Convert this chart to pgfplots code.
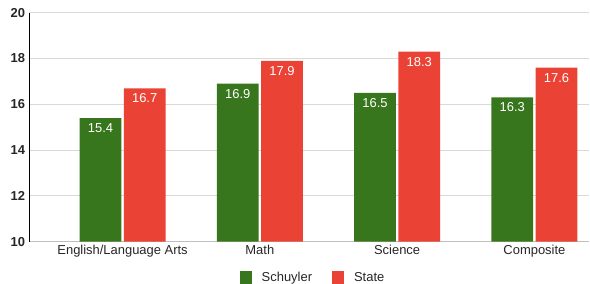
\documentclass[border=0pt]{standalone}
\usepackage{fontspec}
\setmainfont{Liberation Sans}
\usepackage{pgfplots}
\pgfplotsset{compat=1.18}
\definecolor{sgreen}{HTML}{38761D}
\definecolor{sred}{HTML}{EA4335}
\pgfplotsset{sqlegend/.style={legend image code/.code={\fill[##1] (0bp,-6bp) rectangle (12bp,6bp);}}}
\begin{document}
\begin{tikzpicture}
\begin{axis}[
  scale only axis, width=559bp, height=229bp,
  ybar, bar width=0.304,
  xmin=-0.678, xmax=3.394, ymin=10, ymax=20,
  ytick={10,12,...,20},
  xtick={0,1,2,3},
  xticklabels={English/Language Arts, Math, Science, Composite},
  ymajorgrids, grid style={draw=black!15, line width=0.8bp},
  axis lines*=left,
  x axis line style={draw=black!25, line width=0.8bp},
  y axis line style={draw=black, line width=1.3bp},
  major tick length=0pt,
  xticklabel style={font=\fontsize{13}{15}\selectfont, text=black!85},
  yticklabel style={font=\fontsize{13}{15}\selectfont\bfseries, text=black!85, xshift=-1bp},
  /pgf/number format/assume math mode=true,
  nodes near coords,
  nodes near coords style={anchor=north, text=white, yshift=-2bp, font=\fontsize{13}{15}\selectfont,
    /pgf/number format/fixed, /pgf/number format/precision=1, /pgf/number format/fixed zerofill},
  legend style={at={(rel axis cs:0.5,0)}, anchor=center, xshift=4bp, yshift=-35.8bp,
    draw=none, text=black!85, font=\fontsize{13}{15}\selectfont,
    /tikz/every odd column/.style={column sep=8bp},
    /tikz/every even column/.style={column sep=18bp}},
  legend columns=2,
]
\addplot[fill=sgreen, draw=none, bar shift=-0.161, sqlegend]
  coordinates {(0,15.4) (1,16.9) (2,16.5) (3,16.3)};
\addplot[fill=sred, draw=none, bar shift=0.161, sqlegend]
  coordinates {(0,16.7) (1,17.9) (2,18.3) (3,17.6)};
\legend{Schuyler, State}
\end{axis}
\pgfresetboundingbox
\path (-29.5bp,-42.3bp) rectangle (560.5bp,241.7bp);
\end{tikzpicture}
\end{document}
